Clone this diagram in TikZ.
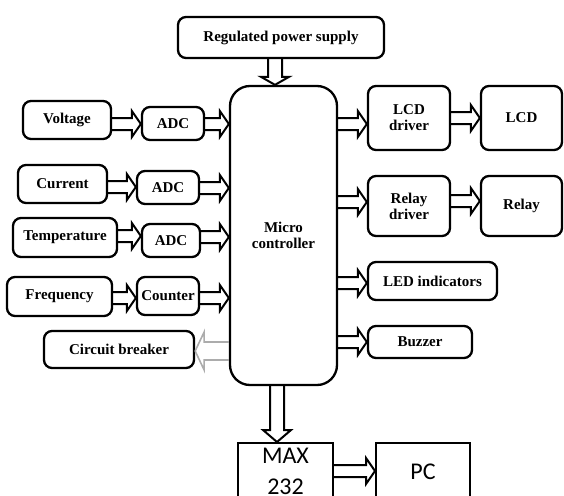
\documentclass[tikz,border=0pt]{standalone}
\usepackage{fontspec}
\setmainfont{Liberation Serif}
\newfontfamily\calfont{Carlito}
\usetikzlibrary{calc}
\tikzset{
  blk/.style={draw, line width=2.3pt, rounded corners=8pt, font=\fontsize{15}{16}\selectfont\bfseries, align=center, inner sep=0pt},
  sq/.style={draw, line width=2pt, font=\calfont\fontsize{24}{31}\selectfont, align=center, inner sep=0pt},
  barrow/.style={draw, line width=2pt, line join=miter},
  garrow/.style={draw=gray!65, line width=1.6pt, line join=miter},
}
\newcommand\rarr[4][barrow]{\path[#1] let \p1=(#2), \p2=(#3), \p3=(0,#4) in
  (\x1,\y3+6pt) -- (\x2-9pt,\y3+6pt) -- (\x2-9pt,\y3+13pt) -- (\x2,\y3) -- (\x2-9pt,\y3-13pt) -- (\x2-9pt,\y3-6pt) -- (\x1,\y3-6pt);}
\newcommand\larr[4][garrow]{\path[#1] let \p1=(#2), \p2=(#3), \p3=(0,#4) in
  (\x1,\y3+9pt) -- (\x2+9pt,\y3+9pt) -- (\x2+9pt,\y3+19pt) -- (\x2,\y3) -- (\x2+9pt,\y3-19pt) -- (\x2+9pt,\y3-9pt) -- (\x1,\y3-9pt);}
\newcommand\darr[5][barrow]{\path[#1] let \p1=(#2), \p2=(#3), \p3=(#4,0) in
  (\x3-7pt,\y1) -- (\x3-7pt,\y2+#5) -- (\x3-14pt,\y2+#5) -- (\x3,\y2) -- (\x3+14pt,\y2+#5) -- (\x3+7pt,\y2+#5) -- (\x3+7pt,\y1);}
\begin{document}
\begin{tikzpicture}[x=1pt,y=-1pt]
\useasboundingbox (0,0) rectangle (564,495);
\clip (0,0) rectangle (564,495);
% nodes
\node[blk, minimum width=206pt, minimum height=41pt] (ps) at (281,37.5) {Regulated power supply};
\node[blk, rounded corners=20pt, minimum width=107pt, minimum height=299pt] (mc) at (283.5,235.5) {Micro\\controller};
\node[blk, minimum width=88pt, minimum height=38pt] (volt) at (67,120) {Voltage};
\node[blk, minimum width=62pt, minimum height=33pt] (adc1) at (173,123.5) {ADC};
\node[blk, minimum width=89pt, minimum height=38pt] (cur) at (62.5,184) {Current};
\node[blk, minimum width=62pt, minimum height=33pt] (adc2) at (168,187.5) {ADC};
\node[blk, minimum width=104pt, minimum height=39pt] (temp) at (65,237.5) {Temperature};
\node[blk, minimum width=58pt, minimum height=33pt] (adc3) at (171,240.5) {ADC};
\node[blk, minimum width=105pt, minimum height=39pt] (freq) at (59.5,296.5) {Frequency};
\node[blk, minimum width=62pt, minimum height=38pt] (cnt) at (168,296) {Counter};
\node[blk, minimum width=150pt, minimum height=37pt] (cb) at (119,349.5) {Circuit breaker};
\node[blk, minimum width=82pt, minimum height=64pt] (lcdd) at (409,118) {LCD\\driver};
\node[blk, minimum width=81pt, minimum height=64pt] (lcd) at (521.5,118) {LCD};
\node[blk, minimum width=82pt, minimum height=60pt] (reld) at (409,206) {Relay\\driver};
\node[blk, minimum width=81pt, minimum height=60pt] (rel) at (521.5,206) {Relay};
\node[blk, minimum width=129pt, minimum height=38pt] (led) at (432.5,281) {LED indicators};
\node[blk, minimum width=104pt, minimum height=32pt] (buz) at (420,342) {Buzzer};
\node[sq, minimum width=95pt, minimum height=57pt] (max) at (285.5,471.5) {MAX\\232};
\node[sq, minimum width=94pt, minimum height=57pt] (pc) at (423,471.5) {PC};
% connectors
\darr{ps.south}{mc.north}{275}{8pt}
\rarr{volt.east}{adc1.west}{124}
\rarr{adc1.east}{mc.west}{124}
\rarr{cur.east}{adc2.west}{187}
\rarr{adc2.east}{mc.west}{188}
\rarr{temp.east}{adc3.west}{236}
\rarr{adc3.east}{mc.west}{237}
\rarr{freq.east}{cnt.west}{298}
\rarr{cnt.east}{mc.west}{298}
\larr{mc.west}{cb.east}{351}
\rarr{mc.east}{lcdd.west}{124}
\rarr{lcdd.east}{lcd.west}{118}
\rarr{mc.east}{reld.west}{202}
\rarr{reld.east}{rel.west}{201}
\rarr{mc.east}{led.west}{283}
\rarr{mc.east}{buz.west}{342}
\darr{mc.south}{max.north}{277}{12pt}
\rarr{max.east}{pc.west}{471}
\end{tikzpicture}
\end{document}
